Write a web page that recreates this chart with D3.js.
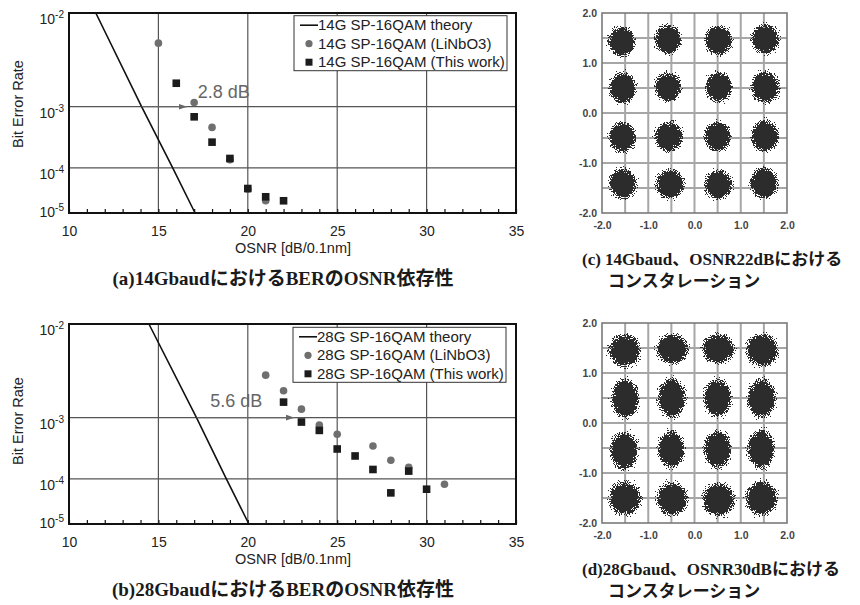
<!DOCTYPE html>
<html>
<head>
<meta charset="utf-8">
<script src="https://cdn.jsdelivr.net/npm/d3@7"></script>
<style>
  body { margin: 0; background: #fff; }
  svg { display: block; font-family: "Liberation Sans", Arial, sans-serif; }
  .cap { font-family: "Liberation Serif", "Noto Sans CJK JP", serif; font-weight: bold; fill: #1a1a1a; }
</style>
</head>
<body>
<svg id="fig" width="860" height="605"></svg>
<script>
// ---------- data ----------
const osnrTicks = [10, 15, 20, 25, 30, 35];
const osnrGrid = [15, 20, 25, 30];
const berTicks = [1e-2, 1e-3, 1e-4, 1e-5];
const berExp = ["-2", "-3", "-4", "-5"];
const berGrid = [1e-3, 1e-4];

// (a) 14 Gbaud
const th14Osnr = [11.5, 14.06, 15.8, 17.05];
const th14Ber  = [1e-2, 1e-3, 1e-4, 1e-5];
const ln14Osnr = [15, 17, 18, 19, 20, 21];
const ln14Ber  = [5.4e-3, 1.14e-3, 5.0e-4, 1.42e-4, 3.6e-5, 1.98e-5];
const tw14Osnr = [16, 17, 18, 19, 20, 21, 22];
const tw14Ber  = [2.0e-3, 7.2e-4, 2.9e-4, 1.5e-4, 3.75e-5, 2.45e-5, 1.98e-5];
const leg14 = ["14G SP-16QAM theory", "14G SP-16QAM (LiNbO3)", "14G SP-16QAM (This work)"];
const gap14 = {from: 14.06, to: 16.6, ber: 1e-3, text: "2.8 dB", textOsnr: 17.2};

// (b) 28 Gbaud
const th28Osnr = [14.47, 17.13, 18.8, 20.06];
const th28Ber  = [1e-2, 1e-3, 1e-4, 1e-5];
const ln28Osnr = [21, 22, 23, 24, 25, 27, 28, 29, 31];
const ln28Ber  = [3.3e-3, 2.2e-3, 1.3e-3, 7.9e-4, 5.8e-4, 3.8e-4, 2.2e-4, 1.65e-4, 7.8e-5];
const tw28Osnr = [22, 23, 24, 25, 26, 27, 28, 29, 30];
const tw28Ber  = [1.6e-3, 8.7e-4, 6.6e-4, 3.4e-4, 2.6e-4, 1.5e-4, 5.2e-5, 1.4e-4, 6.2e-5];
const leg28 = ["28G SP-16QAM theory", "28G SP-16QAM (LiNbO3)", "28G SP-16QAM (This work)"];
const gap28 = {from: 17.13, to: 22.6, ber: 1e-3, text: "5.6 dB", textOsnr: 17.9};

// constellations: [I, Q, spreadI, spreadQ]
const constTicks = [-2, -1, 0, 1, 2];
const const14 = [
  [-1.57, 1.43, 0.41, 0.42], [-0.57, 1.47, 0.41, 0.41], [0.52, 1.45, 0.42, 0.42], [1.53, 1.48, 0.43, 0.42],
  [-1.55, 0.50, 0.41, 0.44], [-0.57, 0.52, 0.40, 0.42], [0.53, 0.52, 0.41, 0.42], [1.53, 0.52, 0.43, 0.45],
  [-1.56, -0.48, 0.41, 0.43], [-0.55, -0.47, 0.43, 0.42], [0.50, -0.47, 0.41, 0.42], [1.52, -0.46, 0.43, 0.44],
  [-1.55, -1.41, 0.42, 0.43], [-0.53, -1.42, 0.43, 0.41], [0.52, -1.43, 0.43, 0.41], [1.50, -1.40, 0.42, 0.44]
];
const const28 = [
  [-1.51, 1.45, 0.48, 0.46], [-0.48, 1.48, 0.48, 0.42], [0.51, 1.48, 0.49, 0.42], [1.46, 1.46, 0.49, 0.46],
  [-1.50, 0.49, 0.42, 0.55], [-0.49, 0.50, 0.42, 0.55], [0.50, 0.50, 0.43, 0.53], [1.45, 0.49, 0.43, 0.55],
  [-1.52, -0.55, 0.43, 0.53], [-0.50, -0.53, 0.40, 0.53], [0.50, -0.53, 0.42, 0.53], [1.44, -0.52, 0.41, 0.55],
  [-1.50, -1.50, 0.49, 0.48], [-0.48, -1.52, 0.47, 0.48], [0.52, -1.53, 0.49, 0.46], [1.45, -1.50, 0.48, 0.48]
];

// ---------- helpers ----------
// inverse normal CDF (Acklam, lower tail) -> the BER axis is linear in 20log10(Q)
function normInv(p) {
  const c = [-7.784894002430293e-03, -3.223964580411365e-01, -2.400758310045107e+00,
             -2.549732539343734e+00, 4.374664141464968e+00, 2.938163982698783e+00];
  const d = [7.784695709041462e-03, 3.224671290700398e-01, 2.445134137142996e+00, 3.754408661907416e+00];
  const q = Math.sqrt(-2 * Math.log(p));
  return (((((c[0]*q + c[1])*q + c[2])*q + c[3])*q + c[4])*q + c[5]) /
         ((((d[0]*q + d[1])*q + d[2])*q + d[3])*q + 1);
}
const qdb = ber => 20 * Math.log10(-normInv(ber));

const svg = d3.select("#fig");
const defs = svg.append("defs");

defs.append("marker").attr("id", "arr")
  .attr("viewBox", "0 0 10 10").attr("refX", 10).attr("refY", 5)
  .attr("markerWidth", 7).attr("markerHeight", 7).attr("orient", "auto")
  .append("path").attr("d", "M0,1.5L10,5L0,8.5Z").attr("fill", "#666");

const blob = defs.append("radialGradient").attr("id", "blob");
blob.append("stop").attr("offset", 0).attr("stop-color", "#000").attr("stop-opacity", 1);
blob.append("stop").attr("offset", 0.35).attr("stop-color", "#000").attr("stop-opacity", 1);
blob.append("stop").attr("offset", 1).attr("stop-color", "#000").attr("stop-opacity", 0);

// speckled edge for the symbol clouds
const speck = defs.append("filter").attr("id", "speck")
  .attr("x", "-5%").attr("y", "-5%").attr("width", "110%").attr("height", "110%")
  .attr("color-interpolation-filters", "sRGB");
speck.append("feTurbulence").attr("type", "fractalNoise").attr("baseFrequency", 0.9)
  .attr("numOctaves", 2).attr("seed", 7).attr("result", "noise");
speck.append("feColorMatrix").attr("in", "noise").attr("type", "matrix")
  .attr("values", "0 0 0 0 0  0 0 0 0 0  0 0 0 0 0  1 0 0 0 0").attr("result", "na");
speck.append("feComposite").attr("in", "SourceAlpha").attr("in2", "na").attr("operator", "arithmetic")
  .attr("k1", 0).attr("k2", 1).attr("k3", 1).attr("k4", -0.5).attr("result", "sum");
speck.append("feComponentTransfer").attr("in", "sum").attr("result", "mask")
  .append("feFuncA").attr("type", "discrete").attr("tableValues", "0 1");
speck.append("feFlood").attr("flood-color", "#2c2c2c");
speck.append("feComposite").attr("in2", "mask").attr("operator", "in");

// ---------- BER vs OSNR panel ----------
function berPanel(o) {
  const w = 447, h = 200;
  const g = svg.append("g").attr("transform", `translate(69,${o.top})`);
  const x = d3.scaleLinear().domain([10, 35]).range([0, w]);
  const yq = d3.scaleLinear().domain([qdb(1e-2), qdb(1e-5)]).range([0, h]);
  const y = b => yq(qdb(b));

  // grid
  g.selectAll(".vg").data(osnrGrid).join("line")
    .attr("x1", d => x(d)).attr("x2", d => x(d)).attr("y1", 0).attr("y2", h)
    .attr("stroke", "#555").attr("stroke-width", 1.2);
  g.selectAll(".hg").data(berGrid).join("line")
    .attr("x1", 0).attr("x2", w).attr("y1", d => y(d)).attr("y2", d => y(d))
    .attr("stroke", "#555").attr("stroke-width", 1.2);

  // minor ticks (inward) and tick labels
  const minor = g.append("g").attr("transform", `translate(0,${h})`)
    .call(d3.axisBottom(x).ticks(25).tickSize(-4).tickFormat(""));
  minor.select(".domain").remove();
  minor.selectAll("line").attr("stroke", "#111").attr("stroke-width", 1.2);
  const lab = g.append("g").attr("transform", `translate(0,${h})`)
    .call(d3.axisBottom(x).tickValues(osnrTicks).tickSize(0).tickPadding(13));
  lab.select(".domain").remove();
  lab.selectAll("text").attr("font-size", 14).attr("fill", "#222")
    .attr("font-family", "Liberation Sans, Arial, sans-serif");

  // theory
  const line = d3.line().x(d => x(d[0])).y(d => y(d[1]));
  g.append("path").datum(o.thO.map((v, i) => [v, o.thB[i]]))
    .attr("d", line).attr("fill", "none").attr("stroke", "#111").attr("stroke-width", 1.6);

  // arrow + gap label
  g.append("line").attr("x1", x(o.gap.from)).attr("x2", x(o.gap.to))
    .attr("y1", y(o.gap.ber)).attr("y2", y(o.gap.ber))
    .attr("stroke", "#666").attr("stroke-width", 1.2).attr("marker-end", "url(#arr)");
  g.append("text").attr("x", x(o.gap.textOsnr)).attr("y", y(o.gap.ber) - o.gapDy)
    .attr("font-size", 18).attr("fill", "#666").text(o.gap.text);

  // markers
  g.selectAll(".ln").data(o.lnO.map((v, i) => [v, o.lnB[i]])).join("circle")
    .attr("cx", d => x(d[0])).attr("cy", d => y(d[1])).attr("r", 3.8).attr("fill", "#6f6f6f");
  g.selectAll(".tw").data(o.twO.map((v, i) => [v, o.twB[i]])).join("rect")
    .attr("x", d => x(d[0]) - 3.8).attr("y", d => y(d[1]) - 3.8)
    .attr("width", 7.6).attr("height", 7.6).attr("fill", "#1c1c1c");

  // frame
  g.append("rect").attr("width", w).attr("height", h)
    .attr("fill", "none").attr("stroke", "#111").attr("stroke-width", 2);

  // y tick labels with superscripts
  const yl = g.selectAll(".yl").data(berTicks).join("text")
    .attr("x", -5).attr("y", (d, i) => y(d) + (i === berTicks.length - 1 ? 4 : 11))
    .attr("text-anchor", "end").attr("fill", "#222").attr("font-size", 14);
  yl.append("tspan").text("10");
  yl.append("tspan").attr("font-size", 10).attr("dy", -6).text((d, i) => berExp[i]);

  // axis titles
  g.append("text").attr("transform", `translate(-46,${o.ylabY}) rotate(-90)`)
    .attr("text-anchor", "middle").attr("font-size", 14.5).attr("fill", "#222").text("Bit Error Rate");
  g.append("text").attr("x", 224).attr("y", h + 40).attr("text-anchor", "middle")
    .attr("font-size", 14.5).attr("fill", "#222").text("OSNR [dB/0.1nm]");

  // legend
  const lg = g.append("g").attr("transform", `translate(${o.legX},${o.legY})`);
  lg.append("rect").attr("width", 213).attr("height", 55).attr("fill", "#fff")
    .attr("stroke", "#333").attr("stroke-width", 1);
  const rows = lg.selectAll(".row").data(o.leg).join("g")
    .attr("transform", (d, i) => `translate(0,${9.5 + i * 18.5})`);
  rows.append("text").attr("x", 24).attr("y", 5).attr("font-size", 15).attr("fill", "#222").text(d => d);
  rows.filter((d, i) => i === 0).append("line").attr("x1", 6).attr("x2", 24)
    .attr("stroke", "#111").attr("stroke-width", 1.6);
  rows.filter((d, i) => i === 1).append("circle").attr("cx", 15).attr("r", 3.6).attr("fill", "#6f6f6f");
  rows.filter((d, i) => i === 2).append("rect").attr("x", 11.5).attr("y", -3.5)
    .attr("width", 7).attr("height", 7).attr("fill", "#1c1c1c");

  // caption
  g.append("text").attr("class", "cap").attr("font-size", 19).attr("x", 214).attr("y", h + 72)
    .attr("text-anchor", "middle").text(o.caption);
}

// ---------- constellation panel ----------
function constPanel(o) {
  const w = 185, h = 200;
  const g = svg.append("g").attr("transform", `translate(602,${o.top})`);
  const x = d3.scaleLinear().domain([-2, 2]).range([0, w]);
  const y = d3.scaleLinear().domain([-2, 2]).range([h, 0]);
  const grid = x.ticks(8).filter(d => d > -2 && d < 2);

  g.selectAll(".gx").data(grid).join("line")
    .attr("x1", d => x(d)).attr("x2", d => x(d)).attr("y1", 0).attr("y2", h)
    .attr("stroke", "#a6a6a6").attr("stroke-width", 2);
  g.selectAll(".gy").data(grid).join("line")
    .attr("y1", d => y(d)).attr("y2", d => y(d)).attr("x1", 0).attr("x2", w)
    .attr("stroke", "#a6a6a6").attr("stroke-width", 2);

  g.append("g").attr("filter", "url(#speck)")
    .selectAll("ellipse").data(o.data).join("ellipse")
    .attr("cx", d => x(d[0])).attr("cy", d => y(d[1]))
    .attr("rx", d => x(d[2]) - x(0)).attr("ry", d => y(0) - y(d[3]))
    .attr("fill", "url(#blob)");

  g.append("rect").attr("width", w).attr("height", h)
    .attr("fill", "none").attr("stroke", "#7a7a7a").attr("stroke-width", 1.6);

  const ax = g.append("g").attr("transform", `translate(0,${h})`)
    .call(d3.axisBottom(x).tickValues(constTicks).tickSize(0).tickPadding(9).tickFormat(d => d.toFixed(1)));
  const ay = g.append("g")
    .call(d3.axisLeft(y).tickValues(constTicks).tickSize(0).tickPadding(5).tickFormat(d => d.toFixed(1)));
  [ax, ay].forEach(a => {
    a.select(".domain").remove();
    a.selectAll("text").attr("font-size", 10.5).attr("fill", "#444").attr("font-weight", "bold")
      .attr("font-family", "Liberation Sans, Arial, sans-serif");
  });

  g.append("text").attr("class", "cap").attr("font-size", 17).attr("x", -20).attr("y", h + 52).text(o.cap1);
  g.append("text").attr("class", "cap").attr("font-size", 17).attr("x", 6).attr("y", h + 74).text(o.cap2);
}

berPanel({top: 13, thO: th14Osnr, thB: th14Ber, lnO: ln14Osnr, lnB: ln14Ber, twO: tw14Osnr, twB: tw14Ber,
  gap: gap14, gapDy: 9, leg: leg14, legX: 225, legY: 2.7, ylabY: 91,
  caption: "(a)14GbaudにおけるBERのOSNR依存性"});
berPanel({top: 324, thO: th28Osnr, thB: th28Ber, lnO: ln28Osnr, lnB: ln28Ber, twO: tw28Osnr, twB: tw28Ber,
  gap: gap28, gapDy: 11, leg: leg28, legX: 224, legY: 3.3, ylabY: 97,
  caption: "(b)28GbaudにおけるBERのOSNR依存性"});
constPanel({top: 13, data: const14, cap1: "(c) 14Gbaud、OSNR22dBにおける", cap2: "コンスタレーション"});
constPanel({top: 323, data: const28, cap1: "(d)28Gbaud、OSNR30dBにおける", cap2: "コンスタレーション"});
</script>
</body>
</html>
